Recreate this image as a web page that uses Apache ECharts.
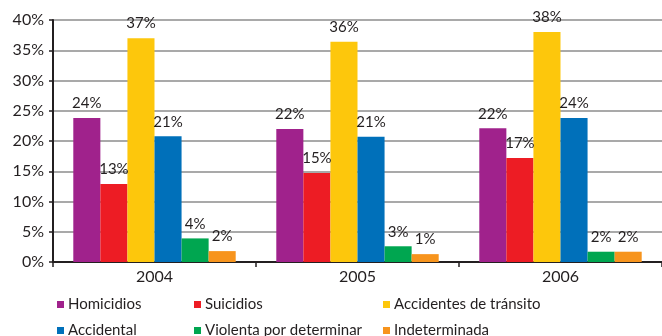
<!DOCTYPE html>
<html><head><meta charset="utf-8">
<script src="https://cdn.jsdelivr.net/npm/echarts@6/dist/echarts.min.js"></script>
<style>html,body{margin:0;padding:0;background:#fff}#c{width:662px;height:336px}</style>
</head><body><div id="c"></div>
<script>
var categories = ['2004', '2005', '2006'];
var seriesNames = ['Homicidios', 'Suicidios', 'Accidentes de tránsito', 'Accidental', 'Violenta por determinar', 'Indeterminada'];
var homicidios = [23.8, 22.0, 22.1];
var suicidios = [12.9, 14.7, 17.2];
var accidentesTransito = [37.0, 36.4, 38.0];
var accidental = [20.8, 20.7, 23.8];
var violenta = [3.9, 2.6, 1.7];
var indeterminada = [1.8, 1.3, 1.7];
var labelTexts = [
  ['24%', '22%', '22%'],
  ['13%', '15%', '17%'],
  ['37%', '36%', '38%'],
  ['21%', '21%', '24%'],
  ['4%', '3%', '2%'],
  ['2%', '1%', '2%']
];
var yTicks = [0, 5, 10, 15, 20, 25, 30, 35, 40];
var colors = ['#a0228c', '#ed1c24', '#fdc70c', '#0070ba', '#00a650', '#f7941d'];
var values = [homicidios, suicidios, accidentesTransito, accidental, violenta, indeterminada];

var FONT = 'Lato';
var TXT = '#231f20';
var chart = echarts.init(document.getElementById('c'));
var series = seriesNames.map(function (n, i) {
  return {
    name: n, type: 'bar', data: values[i],
    barGap: '0%', barCategoryGap: '20%',
    itemStyle: { color: colors[i] },
    label: {
      show: true, position: 'top', distance: 7,
      fontFamily: FONT, fontSize: 15, color: TXT,
      formatter: function (p) { return labelTexts[i][p.dataIndex]; }
    }
  };
});
var legLeft = [57, 194, 383];
var legTop = [297, 323];
var legends = seriesNames.map(function (n, i) {
  return {
    left: legLeft[i % 3], top: legTop[Math.floor(i / 3)], orient: 'horizontal',
    itemWidth: 7, itemHeight: 7, icon: 'rect', selectedMode: false, padding: 0,
    textStyle: { fontFamily: FONT, fontSize: 15, color: TXT, padding: [0, 0, 0, -1] },
    data: [n]
  };
});
chart.setOption({
  animation: false,
  color: colors,
  grid: { left: 53, right: -9, top: 20, bottom: 74, containLabel: false },
  legend: legends,
  xAxis: {
    type: 'category', data: categories,
    axisLine: { lineStyle: { color: '#231f20', width: 2 } },
    axisTick: { show: true, length: 5, lineStyle: { color: '#231f20', width: 1.5 } },
    axisLabel: { fontFamily: FONT, fontSize: 16, color: TXT, margin: 7 }
  },
  yAxis: {
    type: 'value', min: 0, max: 40, interval: 5,
    axisLine: { show: true, lineStyle: { color: '#231f20', width: 2 } },
    axisTick: { show: true, length: 4, lineStyle: { color: '#231f20', width: 1.5 } },
    axisLabel: { fontFamily: FONT, fontSize: 16, color: TXT, margin: 9,
      formatter: function (v) { return yTicks.indexOf(v) >= 0 ? v + '%' : ''; } },
    splitLine: { show: true, lineStyle: { color: '#8c8c8c', width: 1.5 } }
  },
  series: series
});
</script></body></html>
